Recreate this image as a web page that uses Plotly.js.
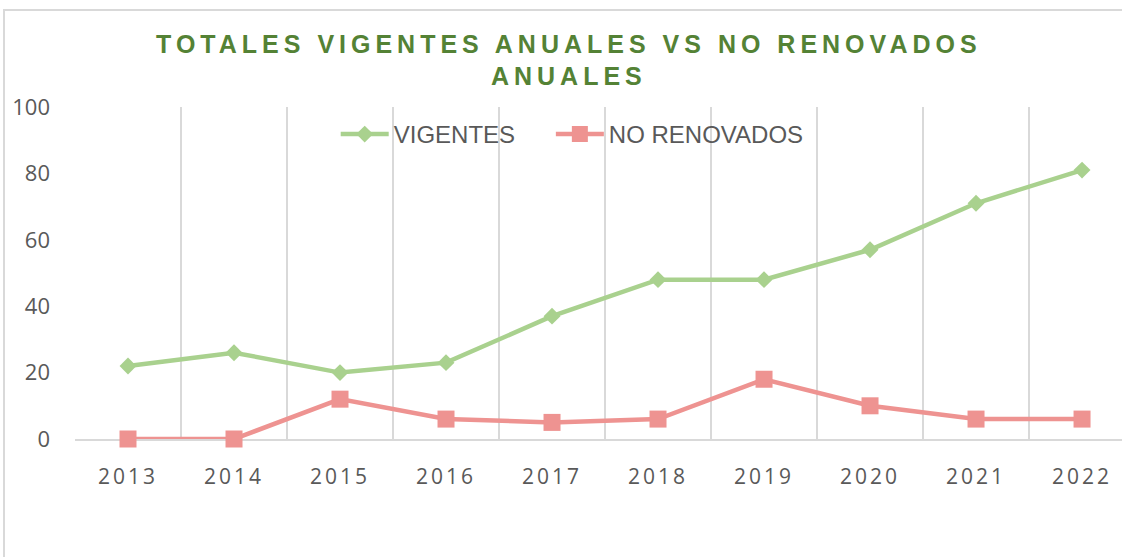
<!DOCTYPE html>
<html>
<head>
<meta charset="utf-8">
<script src="https://cdn.plot.ly/plotly-3.0.1.min.js"></script>
<style>
  body { margin: 0; background: #fff; }
  #chart { width: 1122px; height: 557px; }
  #frame { position: absolute; left: 3px; top: 9px; width: 1300px; height: 700px;
           border: 2px solid #d9d9d9; pointer-events: none; }
  .gtitle { letter-spacing: 5px; }
  .xtick text { letter-spacing: 3px; }
</style>
</head>
<body>
<div id="chart"></div>
<div id="frame"></div>
<script>
const years = ["2013","2014","2015","2016","2017","2018","2019","2020","2021","2022"];
const vigentes = [22, 26, 20, 23, 37, 48, 48, 57, 71, 81];
const noRenovados = [0, 0, 12, 6, 5, 6, 18, 10, 6, 6];

const traces = [
  {
    x: years, y: vigentes, name: "VIGENTES", type: "scatter", mode: "lines+markers",
    line: { color: "#A9D18E", width: 4.5 }, cliponaxis: false, legend: "legend",
    marker: { symbol: "diamond", size: 13, color: "#A9D18E" }
  },
  {
    x: years, y: noRenovados, name: "NO RENOVADOS", type: "scatter", mode: "lines+markers",
    line: { color: "#EE9391", width: 4.5 }, cliponaxis: false, legend: "legend2",
    marker: { symbol: "square", size: 17, color: "#EE9391" }
  }
];

const legFont = { family: "Liberation Sans, Arial, sans-serif", size: 24, color: "#595959" };

const layout = {
  width: 1122, height: 557,
  margin: { l: 75, r: 0, t: 107, b: 118 },
  paper_bgcolor: "#fff", plot_bgcolor: "#fff",
  title: {
    text: "<b>TOTALES VIGENTES ANUALES VS NO RENOVADOS<br>ANUALES</b>",
    font: { family: "Liberation Sans, Arial, sans-serif", size: 25, color: "#548235" },
    x: 0.507, xanchor: "center", y: 0.905, yanchor: "middle"
  },
  showlegend: true,
  legend: {
    orientation: "h", x: 0.249, xanchor: "left", y: 0.985, yanchor: "top",
    itemwidth: 48, font: legFont, bgcolor: "rgba(0,0,0,0)"
  },
  legend2: {
    orientation: "h", x: 0.4545, xanchor: "left", y: 0.985, yanchor: "top",
    itemwidth: 48, font: legFont, bgcolor: "rgba(0,0,0,0)"
  },
  xaxis: {
    type: "category", range: [-0.5, 9.377], layer: "below traces",
    tickson: "boundaries", showgrid: true, gridcolor: "#d9d9d9", gridwidth: 2,
    showline: true, linecolor: "#d9d9d9", linewidth: 2,
    ticks: "", ticklabelstandoff: 18,
    tickfont: { family: "Open Sans, sans-serif", size: 21, color: "#595959" },
    zeroline: false, fixedrange: true
  },
  yaxis: {
    range: [0, 100], dtick: 20, showgrid: false, zeroline: false, showline: false,
    layer: "below traces",
    ticks: "", ticklabelstandoff: 24,
    tickfont: { family: "Open Sans, sans-serif", size: 22, color: "#595959" },
    fixedrange: true
  }
};

Plotly.newPlot("chart", traces, layout, { displayModeBar: false, staticPlot: true });
</script>
</body>
</html>
